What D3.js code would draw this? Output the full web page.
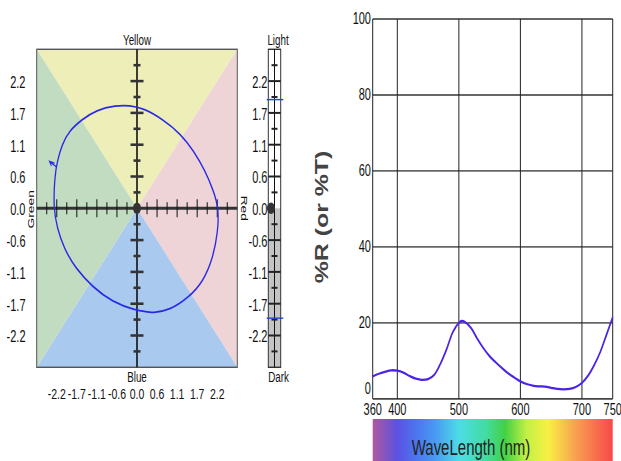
<!DOCTYPE html>
<html>
<head>
<meta charset="utf-8">
<script src="https://cdn.jsdelivr.net/npm/d3@7"></script>
<style>
  html, body { margin: 0; padding: 0; background: #fff; }
  svg { display: block; }
  text { font-family: "Liberation Sans", Arial, sans-serif; fill: #111; }
</style>
</head>
<body>
<svg id="chart"></svg>
<script>
// ---------- colour-space plot data ----------
const axisTickValues = [-2.2, -1.65, -1.1, -0.55, 0, 0.55, 1.1, 1.65, 2.2];
const axisTickLabels = ["-2.2", "-1.7", "-1.1", "-0.6", "0.0", "0.6", "1.1", "1.7", "2.2"];
const hueNames = ["Yellow", "Red", "Blue", "Green"];
const lightNames = ["Light", "Dark"];

// colour locus (a = red/green, b = yellow/blue)
const locusA = [2.24, 2.10, 1.87, 1.55, 1.19, 0.73, 0.18, -0.20, -0.58, -1.12, -1.50, -1.86, -2.05, -2.19,
                -2.26, -2.29, -2.19, -2.00, -1.68, -1.22, -0.68, -0.03, 0.34, 0.40, 0.89, 1.44, 1.81, 2.08, 2.22];
const locusB = [0.00, 0.30, 0.65, 1.00, 1.29, 1.53, 1.73, 1.78, 1.78, 1.70, 1.54, 1.34, 1.11, 0.81,
                0.53, 0.00, -0.34, -0.70, -1.04, -1.36, -1.62, -1.77, -1.79, -1.81, -1.77, -1.53, -1.27, -0.87, -0.40];
const arrowPoint = [-2.40, 0.81];

// lightness range markers
const lightRange = [1.88, -1.90];
const lightPoint = 0;

// ---------- spectral curve data ----------
const wavelengths = [360, 370, 380, 390, 400, 410, 420, 430, 440, 450, 460, 470, 480, 490, 500, 505, 510, 520, 530, 540,
                     550, 560, 570, 580, 590, 600, 610, 620, 630, 640, 650, 660, 670, 680, 690, 700, 710, 720, 730, 740, 750];
const reflectance = [5.9, 6.6, 7.1, 7.5, 7.4, 6.9, 6.0, 5.3, 5.0, 5.2, 6.3, 9.2, 13.0, 17.5, 20.0, 20.5, 20.2, 18.6, 15.8, 13.3,
                     11.2, 9.6, 8.1, 6.7, 5.6, 4.6, 3.9, 3.5, 3.3, 3.2, 2.9, 2.6, 2.5, 2.6, 3.1, 4.2, 6.1, 8.9, 12.4, 16.9, 21.5];
const waveTicks = [360, 400, 500, 600, 700, 750];
const percentTicks = [0, 20, 40, 60, 80, 100];
const waveTitle = "WaveLength (nm)";
const percentTitle = "%R (or %T)";

// ---------- drawing ----------
const W = 621, H = 461;
const K = 1.42;                 // vertical stretch of the drawing
const Y = v => v / K;           // layout helper for vertical positions

const svg = d3.select("#chart")
  .attr("width", W).attr("height", H)
  .attr("viewBox", `0 0 ${W} ${H / K}`)
  .attr("preserveAspectRatio", "none");

// ===== colour-space panel =====
const xA = d3.scaleLinear([-2.75, 2.75], [36.7, 237.3]);
const yA = d3.scaleLinear([-2.75, 2.75], [Y(367.3), Y(49.3)]);
const E = 2.75;
const C = [xA(0), yA(0)];
const TL = [xA(-E), yA(E)], TR = [xA(E), yA(E)], BR = [xA(E), yA(-E)], BL = [xA(-E), yA(-E)];

const sectors = [
  { pts: [TL, TR, C], fill: "#eeeeb8" },
  { pts: [TR, BR, C], fill: "#eed4d6" },
  { pts: [BR, BL, C], fill: "#a9c9ee" },
  { pts: [BL, TL, C], fill: "#c2dcc2" }
];
svg.append("g").selectAll("polygon").data(sectors).join("polygon")
  .attr("points", d => d.pts.map(p => p.join(",")).join(" "))
  .attr("fill", d => d.fill);

svg.append("rect")
  .attr("x", xA(-E)).attr("y", yA(E))
  .attr("width", xA(E) - xA(-E)).attr("height", yA(-E) - yA(E))
  .attr("fill", "none").attr("stroke", "#555").attr("stroke-width", 1);

// sub-ticks every 0.275, major every 0.55
const subTicks = d3.range(-9, 10).filter(i => i !== 0).map(i => ({ v: i * 0.275, major: i % 2 === 0 }));

const axes = svg.append("g");
axes.append("line")
  .attr("x1", xA(-E)).attr("x2", xA(E)).attr("y1", yA(0)).attr("y2", yA(0))
  .attr("stroke", "#333").attr("stroke-width", 2.2);
axes.append("line")
  .attr("x1", xA(0)).attr("x2", xA(0)).attr("y1", yA(E)).attr("y2", yA(-E))
  .attr("stroke", "#111").attr("stroke-width", 1.6);

axes.selectAll("line.xt").data(subTicks).join("line").attr("class", "xt")
  .attr("x1", d => xA(d.v)).attr("x2", d => xA(d.v))
  .attr("y1", d => yA(0) - Y(d.major ? 9 : 6)).attr("y2", d => yA(0) + Y(d.major ? 9 : 6))
  .attr("stroke", "#111").attr("stroke-width", 1);
axes.selectAll("line.yt").data(subTicks).join("line").attr("class", "yt")
  .attr("x1", d => xA(0) - (d.major ? 6.5 : 3.5)).attr("x2", d => xA(0) + (d.major ? 6.5 : 3.5))
  .attr("y1", d => yA(d.v)).attr("y2", d => yA(d.v))
  .attr("stroke", "#333").attr("stroke-width", 1.8);

// colour locus
const locus = locusA.map((a, i) => [a, locusB[i]]);
svg.append("path")
  .attr("d", d3.line().x(d => xA(d[0])).y(d => yA(d[1])).curve(d3.curveBasisClosed)(locus))
  .attr("fill", "none").attr("stroke", "#2a2ae6").attr("stroke-width", 1.3);

const ax = xA(arrowPoint[0]), ay = yA(arrowPoint[1]);
svg.append("path")
  .attr("d", `M${ax + 5},${ay + Y(1.7)} L${ax},${ay} L${ax + 2},${ay + Y(4.5)} M${ax},${ay} L${ax + 7},${ay + Y(5.5)}`)
  .attr("fill", "none").attr("stroke", "#2a2ae6").attr("stroke-width", 1);

svg.append("ellipse")
  .attr("cx", xA(0)).attr("cy", yA(0)).attr("rx", 4).attr("ry", 4)
  .attr("fill", "#333");

// axis labels
svg.append("g").selectAll("text").data(axisTickValues).join("text")
  .attr("x", 25.5).attr("y", d => yA(d) + Y(1.8))
  .attr("text-anchor", "end").attr("dominant-baseline", "central")
  .attr("font-size", 11).text((d, i) => axisTickLabels[i]);
svg.append("g").selectAll("text").data(axisTickValues).join("text")
  .attr("x", d => xA(d)).attr("y", Y(394))
  .attr("text-anchor", "middle").attr("dominant-baseline", "central")
  .attr("font-size", 10.5).text((d, i) => axisTickLabels[i]);

const nameFont = 9.8;
svg.append("text").attr("x", xA(0)).attr("y", Y(40)).attr("text-anchor", "middle")
  .attr("dominant-baseline", "central").attr("font-size", nameFont).text(hueNames[0]);
svg.append("text").attr("x", xA(0)).attr("y", Y(377.5)).attr("text-anchor", "middle")
  .attr("dominant-baseline", "central").attr("font-size", nameFont).text(hueNames[2]);
svg.append("text").attr("transform", `translate(244,${yA(0)}) rotate(90)`).attr("text-anchor", "middle")
  .attr("dominant-baseline", "central").attr("font-size", nameFont).text(hueNames[1]);
svg.append("text").attr("transform", `translate(31,${yA(0) + Y(1)}) rotate(-90)`).attr("text-anchor", "middle")
  .attr("dominant-baseline", "central").attr("font-size", nameFont).text(hueNames[3]);

// ===== lightness bar =====
const bx0 = 268.3, bx1 = 280.7, bxm = 274.5;
const bar = svg.append("g");
bar.append("rect").attr("x", bx0).attr("y", yA(E)).attr("width", bx1 - bx0).attr("height", yA(0) - yA(E)).attr("fill", "#fff");
bar.append("rect").attr("x", bx0).attr("y", yA(0)).attr("width", bx1 - bx0).attr("height", yA(-E) - yA(0)).attr("fill", "#c4c4c4");
bar.append("rect").attr("x", bx0).attr("y", yA(E)).attr("width", bx1 - bx0).attr("height", yA(-E) - yA(E))
  .attr("fill", "none").attr("stroke", "#333").attr("stroke-width", 1);
bar.append("line").attr("x1", bxm).attr("x2", bxm).attr("y1", yA(E)).attr("y2", yA(-E))
  .attr("stroke", "#111").attr("stroke-width", 1);
bar.selectAll("line.lt").data(subTicks).join("line").attr("class", "lt")
  .attr("x1", d => d.major ? bx0 : 271.5).attr("x2", d => d.major ? bx1 : 277.5)
  .attr("y1", d => yA(d.v)).attr("y2", d => yA(d.v))
  .attr("stroke", "#222").attr("stroke-width", 1.4);
bar.selectAll("line.lr").data(lightRange).join("line").attr("class", "lr")
  .attr("x1", 266.7).attr("x2", 283.3).attr("y1", d => yA(d)).attr("y2", d => yA(d))
  .attr("stroke", "#2244dd").attr("stroke-width", 1);
bar.append("ellipse").attr("cx", 271).attr("cy", yA(lightPoint)).attr("rx", 4).attr("ry", 4).attr("fill", "#333");
bar.selectAll("text.ll").data(axisTickValues).join("text").attr("class", "ll")
  .attr("x", 267.5).attr("y", d => yA(d) + Y(1.8))
  .attr("text-anchor", "end").attr("dominant-baseline", "central")
  .attr("font-size", 11).text((d, i) => axisTickLabels[i]);
bar.append("text").attr("x", 278).attr("y", Y(40)).attr("text-anchor", "middle")
  .attr("dominant-baseline", "central").attr("font-size", nameFont).text(lightNames[0]);
bar.append("text").attr("x", 278.5).attr("y", Y(377.5)).attr("text-anchor", "middle")
  .attr("dominant-baseline", "central").attr("font-size", nameFont).text(lightNames[1]);

// ===== spectral plot =====
const xS = d3.scaleLinear([360, 750], [372.7, 612.7]);
const yS = d3.scaleLinear([0, 100], [Y(398.8), Y(19)]);
const spec = svg.append("g");

spec.selectAll("line.hg").data(percentTicks).join("line").attr("class", "hg")
  .attr("x1", xS(360)).attr("x2", xS(750)).attr("y1", d => yS(d)).attr("y2", d => yS(d))
  .attr("stroke", d => d === 0 ? "#444" : "#666").attr("stroke-width", 1.3);
spec.selectAll("line.vg").data(waveTicks).join("line").attr("class", "vg")
  .attr("x1", d => xS(d)).attr("x2", d => xS(d)).attr("y1", yS(0)).attr("y2", yS(100))
  .attr("stroke", "#222").attr("stroke-width", 1);

spec.selectAll("text.yl").data(percentTicks).join("text").attr("class", "yl")
  .attr("x", 371).attr("y", d => yS(d) - (d === 0 ? Y(10) : 0))
  .attr("text-anchor", "end").attr("dominant-baseline", "central")
  .attr("font-size", 11).text(d => d);
spec.selectAll("text.xl").data(waveTicks).join("text").attr("class", "xl")
  .attr("x", d => xS(d)).attr("y", Y(410))
  .attr("text-anchor", "middle").attr("dominant-baseline", "central")
  .attr("font-size", 11).text(d => d);

spec.append("text").attr("transform", `translate(322,${Y(217)}) rotate(-90)`)
  .attr("text-anchor", "middle").attr("dominant-baseline", "central")
  .attr("font-size", 17.5).attr("font-weight", "bold").style("fill", "#444").text(percentTitle);

spec.append("path")
  .attr("d", d3.line().x((d, i) => xS(wavelengths[i])).y(d => yS(d)).curve(d3.curveCatmullRom)(reflectance))
  .attr("fill", "none").attr("stroke", "#4b22e8").attr("stroke-width", 1.6);

// visible spectrum strip
const defs = svg.append("defs");
const grad = defs.append("linearGradient").attr("id", "spectrum")
  .attr("gradientUnits", "userSpaceOnUse")
  .attr("x1", xS(360)).attr("x2", xS(750)).attr("y1", 0).attr("y2", 0);
const stops = [
  [360, "#b0589e"], [400, "#5a52e2"], [430, "#4c74ee"], [460, "#4898f2"], [500, "#4cdce6"],
  [545, "#42dca0"], [575, "#44d044"], [610, "#c2f044"], [645, "#f8f044"], [690, "#f8a050"], [750, "#f84848"]
];
grad.selectAll("stop").data(stops).join("stop")
  .attr("offset", d => (xS(d[0]) - xS(360)) / (xS(750) - xS(360)))
  .attr("stop-color", d => d[1]);
spec.append("rect").attr("x", xS(360)).attr("y", Y(419)).attr("width", xS(750) - xS(360)).attr("height", Y(50))
  .attr("fill", "url(#spectrum)");
spec.append("text").attr("x", 471).attr("y", Y(455)).attr("text-anchor", "middle")
  .attr("font-size", 15).style("fill", "#222").text(waveTitle);
</script>
</body>
</html>
